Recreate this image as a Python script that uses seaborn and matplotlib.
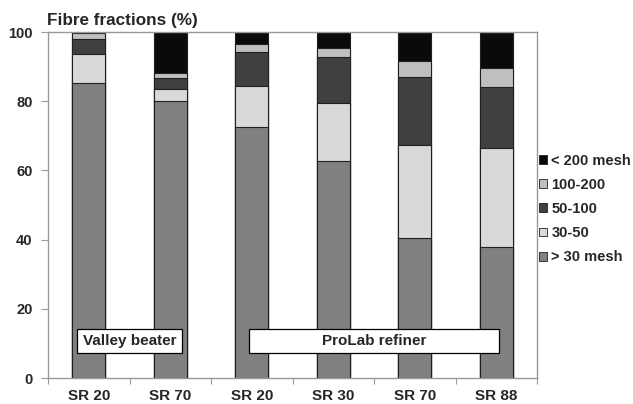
import numpy as np
import pandas as pd
import matplotlib
matplotlib.use("Agg")
import matplotlib.pyplot as plt
from matplotlib.patches import Rectangle, Patch
import seaborn as sns

# ---- data ----
categories = ["VB SR 20", "VB SR 70", "PL SR 20", "PL SR 30", "PL SR 70", "PL SR 88"]
tick_labels = ["SR 20", "SR 70", "SR 20", "SR 30", "SR 70", "SR 88"]
fractions = ["> 30 mesh", "30-50", "50-100", "100-200", "< 200 mesh"]
gt30 = [85.2, 80.0, 72.6, 62.7, 40.6, 37.9]
f30_50 = [8.4, 3.6, 11.9, 16.8, 26.8, 28.7]
f50_100 = [4.5, 3.1, 9.8, 13.4, 19.6, 17.5]
f100_200 = [1.5, 1.5, 2.2, 2.5, 4.6, 5.5]
lt200 = [0.4, 11.8, 3.5, 4.6, 8.4, 10.4]
colors = ["#808080", "#d9d9d9", "#404040", "#bfbfbf", "#0a0a0a"]

sns.set_theme(style="white")
plt.rcParams["font.family"] = ["Liberation Sans", "DejaVu Sans"]
plt.rcParams["font.weight"] = "bold"

series = [gt30, f30_50, f50_100, f100_200, lt200]
df = pd.DataFrame({"cat": categories})
cum = np.zeros(len(categories))
cum_cols = []
for name, vals in zip(fractions, series):
    cum = cum + np.array(vals)
    df[name] = cum
    cum_cols.append(name)

fig = plt.figure(figsize=(6.33, 4.04), dpi=100)
ax = fig.add_axes([48/633, 1-378/404, 489/633, 346/404])

for name, col in reversed(list(zip(cum_cols, colors))):
    sns.barplot(data=df, x="cat", y=name, order=categories, color=col,
                width=0.405, edgecolor="#202020", linewidth=0.8,
                saturation=1, ax=ax)

ax.set_ylim(0, 100)
ax.set_xlim(-0.5, 5.5)
ax.set_yticks([0, 20, 40, 60, 80, 100])
ax.set_yticklabels(["0", "20", "40", "60", "80", "100"], fontsize=10.5, fontweight="bold")
ax.set_xticks(range(len(categories)))
ax.set_xticklabels(tick_labels, fontsize=11, fontweight="bold")
ax.tick_params(axis="x", which="major", length=0, pad=8)
ax.set_xticks(np.arange(-0.5, 6.0, 1.0), minor=True)
ax.tick_params(axis="x", which="minor", length=4, color="#999999", width=0.8, direction="out", bottom=True)
ax.tick_params(axis="y", length=5, color="#999999", width=0.8, direction="out", left=True, pad=6)
ax.set_xlabel("")
ax.set_ylabel("")
for s in ax.spines.values():
    s.set_color("#999999")
    s.set_linewidth(1.0)

ax.text(-0.002, 1.012, "Fibre fractions (%)", transform=ax.transAxes,
        fontsize=12.3, fontweight="bold", ha="left", va="bottom")

# annotation boxes
for (x0, x1), label in [((-0.145, 1.14), "Valley beater"), ((1.97, 5.03), "ProLab refiner")]:
    ax.add_patch(Rectangle((x0, 7.2), x1 - x0, 7.0, facecolor="white",
                           edgecolor="black", linewidth=0.9, zorder=5))
    ax.text((x0 + x1) / 2, 10.7, label, ha="center", va="center",
            fontsize=11, fontweight="bold", zorder=6)

handles = [Patch(facecolor=c, edgecolor="#202020", linewidth=0.6, label=f)
           for f, c in zip(fractions, colors)]
handles = handles[::-1]
fig.legend(handles=handles, loc="center left", bbox_to_anchor=(536/633, 1-209/404),
           frameon=False, handlelength=0.55, handleheight=0.55,
           handletextpad=0.3, labelspacing=0.7, borderaxespad=0, borderpad=0.2,
           prop={"weight": "bold", "size": 10.5})

fig.savefig("out.png", dpi=100)
